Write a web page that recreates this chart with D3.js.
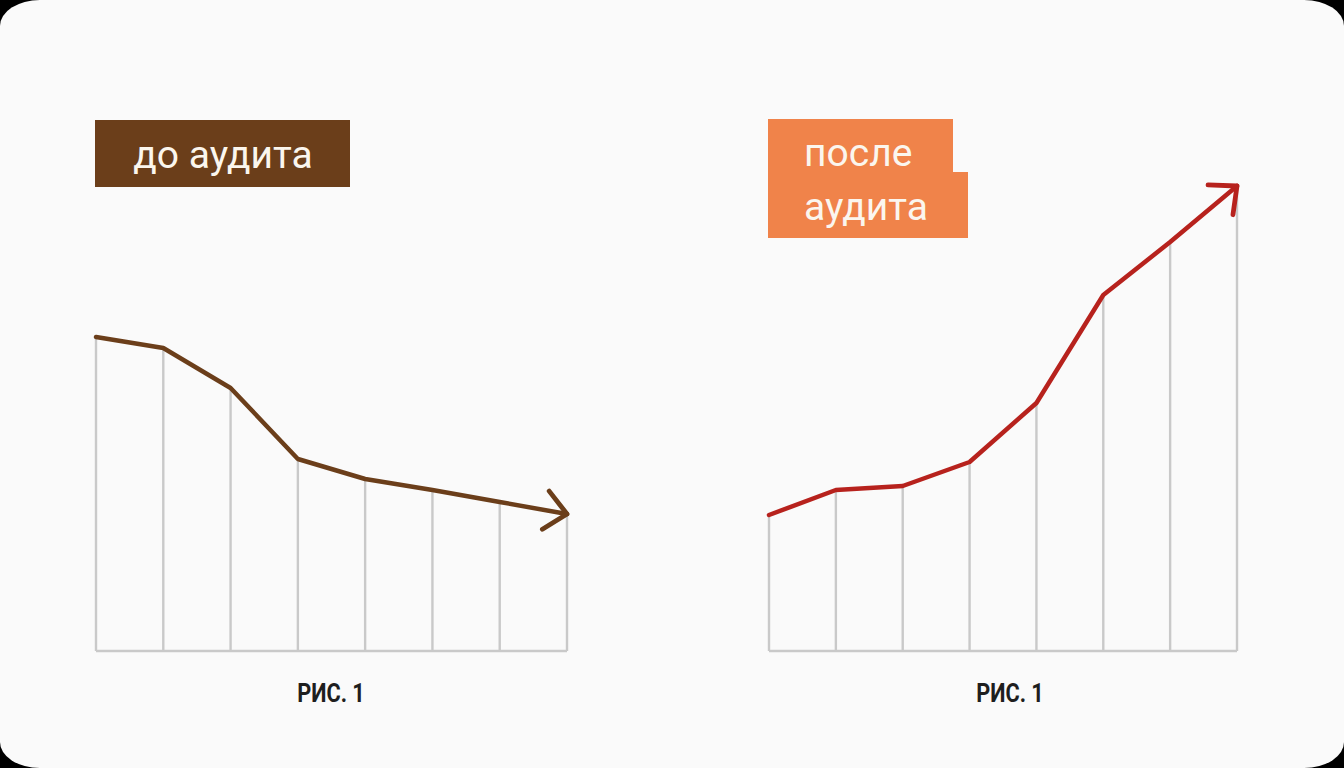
<!DOCTYPE html>
<html>
<head>
<meta charset="utf-8">
<script src="https://cdn.jsdelivr.net/npm/d3@7"></script>
<style>
  html, body { margin: 0; padding: 0; background: #000; }
  svg { display: block; }
</style>
</head>
<body>
<svg id="chart" width="1344" height="768"></svg>
<script>
// ---- data ----
const steps = [0, 1, 2, 3, 4, 5, 6, 7];
const beforeValues = [62.8, 60.6, 52.6, 38.4, 34.4, 32.2, 29.8, 27.4];
const afterValues  = [27.2, 32.2, 33.0, 37.8, 49.6, 71.2, 81.8, 93.0];
const beforeLabel = ["до аудита"];
const afterLabel = ["после", "аудита"];
const captionText = "РИС. 1";

const svg = d3.select("#chart");
const W = 1344, H = 768;

svg.append("rect").attr("x", 0).attr("y", 0).attr("width", W).attr("height", H)
  .attr("rx", 40).attr("ry", 26).attr("fill", "#fafafa");

const y = d3.scaleLinear().domain([0, 100]).range([651, 151]);

function drawPanel(values, x0, x1, color, caption, capX) {
  const x = d3.scaleLinear().domain([0, steps.length - 1]).range([x0, x1]);
  const g = svg.append("g");
  g.selectAll("line.v").data(steps).join("line")
    .attr("class", "v")
    .attr("x1", d => x(d)).attr("x2", d => x(d))
    .attr("y1", y(0)).attr("y2", d => y(values[d]))
    .attr("stroke", "#c9c9c9").attr("stroke-width", 2.4);
  g.append("line")
    .attr("x1", x(0)).attr("x2", x(steps.length - 1))
    .attr("y1", y(0)).attr("y2", y(0))
    .attr("stroke", "#c9c9c9").attr("stroke-width", 2.4);
  const line = d3.line().x(d => x(d)).y(d => y(values[d]));
  g.append("path").attr("d", line(steps))
    .attr("fill", "none").attr("stroke", color).attr("stroke-width", 4.5)
    .attr("stroke-linejoin", "round").attr("stroke-linecap", "round");
  const n = steps.length - 1;
  const tx = x(n), ty = y(values[n]);
  const px = x(n - 1), py = y(values[n - 1]);
  const ang = Math.atan2(ty - py, tx - px);
  const len = 29, spread = 42 * Math.PI / 180;
  const a1 = ang + Math.PI - spread, a2 = ang + Math.PI + spread;
  const pts = [[tx + len * Math.cos(a1), ty + len * Math.sin(a1)], [tx, ty], [tx + len * Math.cos(a2), ty + len * Math.sin(a2)]];
  g.append("path").attr("d", d3.line()(pts))
    .attr("fill", "none").attr("stroke", color).attr("stroke-width", 4.8)
    .attr("stroke-linejoin", "round").attr("stroke-linecap", "round");
  g.append("text")
    .attr("transform", `translate(${capX},702) scale(0.87,1)`)
    .attr("text-anchor", "middle")
    .attr("font-family", "Roboto, 'Liberation Sans', sans-serif")
    .attr("font-weight", 700).attr("font-size", 25)
    .attr("fill", "#1e1e1e")
    .text(caption);
}

drawPanel(beforeValues, 96, 567, "#6b3e1a", captionText, 331);
drawPanel(afterValues, 769, 1237, "#b7221d", captionText, 1010);

svg.append("rect").attr("x", 95).attr("y", 120).attr("width", 255).attr("height", 67)
  .attr("fill", "#6b3e1a");
svg.append("text").attr("x", 223).attr("y", 168)
  .attr("text-anchor", "middle")
  .attr("font-family", "Roboto, sans-serif").attr("font-size", 39)
  .attr("fill", "#fbf6ee").text(beforeLabel[0]);

svg.append("path")
  .attr("d", "M768,119 H953 V172 H968 V238 H768 Z")
  .attr("fill", "#f0834a");
svg.selectAll("text.after").data(afterLabel).join("text")
  .attr("class", "after")
  .attr("x", 804).attr("y", (d, i) => 166 + i * 54)
  .attr("font-family", "Roboto, sans-serif").attr("font-size", 39)
  .attr("fill", "#fbf6ee").text(d => d);
</script>
</body>
</html>
